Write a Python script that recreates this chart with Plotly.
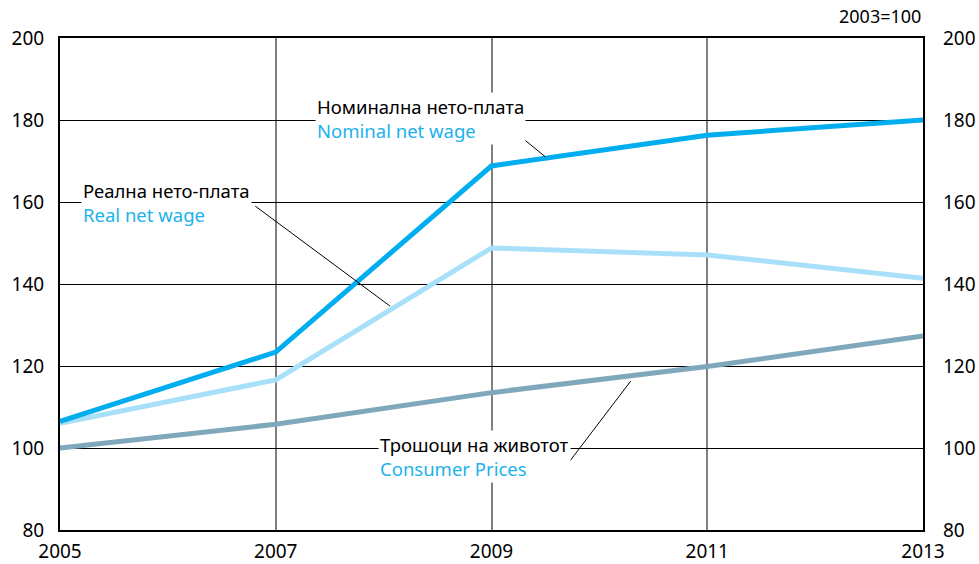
import plotly.graph_objects as go

years = [2005, 2007, 2009, 2011, 2013]
nominal_wage = [106.5, 123.4, 168.8, 176.3, 180.0]
real_wage = [106.0, 116.6, 148.8, 147.1, 141.4]
consumer_prices = [100.0, 105.8, 113.5, 119.9, 127.3]
y_ticks = [80, 100, 120, 140, 160, 180, 200]
x_ticks = [2005, 2007, 2009, 2011, 2013]

C_NOM = "#00AEEF"
C_REAL = "#A8E0F9"
C_CPI = "#7FA8BC"
C_EN = "#1CB2EC"
FONT = "Noto Sans"

fig = go.Figure()
fig.add_trace(go.Scatter(x=years, y=consumer_prices, mode="lines",
                         line=dict(color=C_CPI, width=5), hoverinfo="skip"))
fig.add_trace(go.Scatter(x=years, y=real_wage, mode="lines",
                         line=dict(color=C_REAL, width=5), hoverinfo="skip"))
fig.add_trace(go.Scatter(x=years, y=nominal_wage, mode="lines",
                         line=dict(color=C_NOM, width=5), hoverinfo="skip"))
# invisible trace to carry the right axis
fig.add_trace(go.Scatter(x=years, y=consumer_prices, mode="lines", yaxis="y2",
                         line=dict(color="rgba(0,0,0,0)", width=0), hoverinfo="skip"))

# leader lines (data coords)
leaders = [
    (2009.24, 176.6, 2009.50, 171.0),
    (2006.81, 159.0, 2008.06, 134.6),
    (2009.70, 95.9, 2010.29, 116.3),
]
for x0, y0, x1, y1 in leaders:
    fig.add_shape(type="line", x0=x0, y0=y0, x1=x1, y1=y1, xref="x", yref="y",
                  line=dict(color="black", width=1), layer="above")

labels = [
    (2007.36, 180.4, "Номинална нето-плата", "Nominal net wage"),
    (2005.19, 160.0, "Реална нето-плата", "Real net wage"),
    (2007.95, 98.0, "Трошоци на животот", "Consumer Prices"),
]
for x, y, mk, en in labels:
    fig.add_annotation(x=x, y=y, xref="x", yref="y", xanchor="left", yanchor="middle",
                       align="left", showarrow=False, bgcolor="white", borderpad=1,
                       text=f"{mk}<br><span style='color:{C_EN}'>{en}</span>",
                       font=dict(family=FONT, size=18.5, color="black"))

fig.add_annotation(x=1, y=1, xref="paper", yref="paper", xanchor="right", yanchor="bottom",
                   yshift=8, showarrow=False, text="2003=100",
                   font=dict(family=FONT, size=18, color="black"))

axis_font = dict(family=FONT, size=19, color="black")
fig.update_layout(
    width=979, height=564,
    margin=dict(l=60, r=56, t=38, b=34),
    paper_bgcolor="white", plot_bgcolor="white",
    showlegend=False,
    xaxis=dict(range=[2005, 2013], tickvals=x_ticks, ticktext=[str(v) for v in x_ticks],
               showgrid=True, gridcolor="#808080", gridwidth=1.5,
               showline=True, linecolor="black", linewidth=2, mirror=True,
               ticks="", tickfont=axis_font, zeroline=False, automargin=False,
               ticklabelstandoff=3),
    yaxis=dict(range=[80, 200], tickvals=y_ticks, showgrid=True, gridcolor="black",
               gridwidth=1, showline=True, linecolor="black", linewidth=2, mirror=True,
               ticks="", tickfont=axis_font, zeroline=False, ticklabelstandoff=10,
               automargin=False),
    yaxis2=dict(range=[80, 200], tickvals=y_ticks, overlaying="y", side="right",
                showgrid=False, ticks="", tickfont=axis_font, zeroline=False,
                ticklabelstandoff=19, automargin=False),
)

fig.write_html("out.html", config={"displayModeBar": False},
               post_script="document.body.style.margin='0';document.body.style.overflow='hidden';")
